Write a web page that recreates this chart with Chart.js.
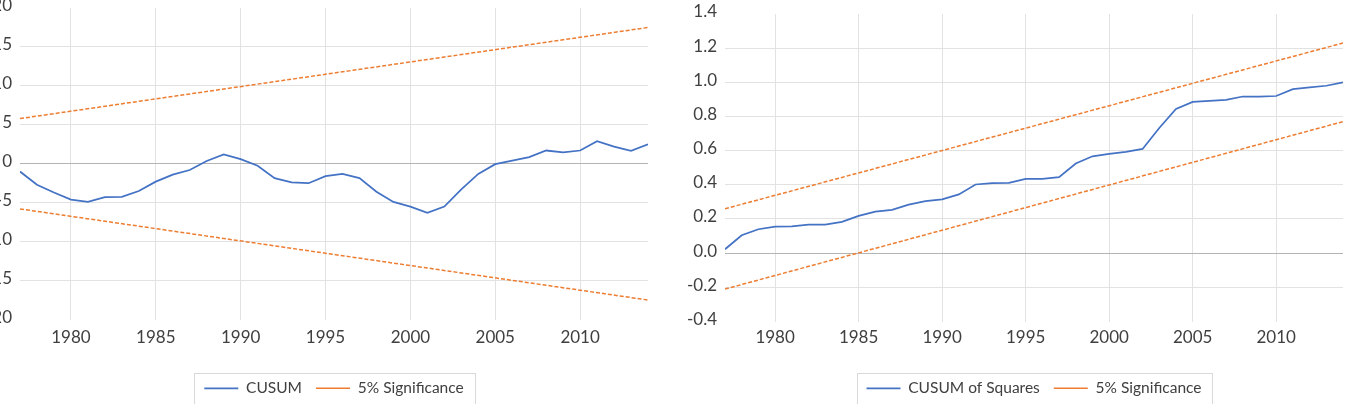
<!DOCTYPE html>
<html><head><meta charset="utf-8">
<script src="https://cdn.jsdelivr.net/npm/chart.js@4.4.1/dist/chart.umd.min.js"></script>
<style>
html,body{margin:0;padding:0;width:1352px;height:404px;overflow:hidden;background:#fff;}
#w1{position:absolute;left:-30px;top:0;width:698px;height:420px;}
#w2{position:absolute;left:680px;top:0;width:672px;height:420px;}
</style></head><body>
<div id="w1"><canvas id="c1"></canvas></div>
<div id="w2"><canvas id="c2"></canvas></div>
<script>
const years = [1977,1978,1979,1980,1981,1982,1983,1984,1985,1986,1987,1988,1989,1990,1991,1992,1993,1994,1995,1996,1997,1998,1999,2000,2001,2002,2003,2004,2005,2006,2007,2008,2009,2010,2011,2012,2013,2014];
const cusum = [-1.0,-2.7,-3.7,-4.6,-4.9,-4.3,-4.25,-3.5,-2.3,-1.4,-0.8,0.35,1.2,0.6,-0.25,-1.85,-2.4,-2.5,-1.6,-1.3,-1.85,-3.6,-4.9,-5.5,-6.3,-5.5,-3.3,-1.3,-0.05,0.4,0.85,1.7,1.45,1.7,2.9,2.2,1.65,2.5];
const cusumSq = [0.023,0.105,0.14,0.156,0.157,0.167,0.167,0.183,0.218,0.243,0.253,0.284,0.305,0.315,0.344,0.402,0.41,0.412,0.435,0.435,0.445,0.525,0.567,0.581,0.593,0.61,0.733,0.844,0.885,0.892,0.898,0.917,0.917,0.92,0.96,0.97,0.98,1.0];
const sigYears = [1977, 2014];
const cusumUpper = [5.8, 17.5];
const cusumLower = [-5.8, -17.5];
const sqUpper = [0.26, 1.23];
const sqLower = [-0.21, 0.77];
const xTickYears = [1980,1985,1990,1995,2000,2005,2010];
const leftYTicks = [-20,-15,-10,-5,0,5,10,15,20];
const rightYTicks = [-0.4,-0.2,0,0.2,0.4,0.6,0.8,1.0,1.2,1.4];
const leftLabels = ['CUSUM', '5% Significance'];
const rightLabels = ['CUSUM of Squares', '5% Significance'];

const BLUE = '#4472C4', ORANGE = '#ED7D31', TXT = '#404040';
const pts = (xs, ys) => xs.map((x, i) => ({x: x, y: ys[i]}));

const legendBox = {
  id: 'legendBox',
  afterDraw(chart) {
    const hb = chart.legend && chart.legend.legendHitBoxes;
    if (!hb || !hb.length) return;
    const last = hb[hb.length - 1];
    const left = Math.round(hb[0].left - 10);
    const right = Math.round(last.left + last.width + 11);
    const mid = hb[0].top + hb[0].height / 2;
    const top = Math.round(mid - 15);
    const ctx = chart.ctx;
    ctx.save();
    ctx.strokeStyle = '#d9d9d9';
    ctx.lineWidth = 1;
    ctx.strokeRect(left + 0.5, top + 0.5, right - left, 80);
    ctx.restore();
  }
};

function makeChart(id, o) {
  return new Chart(document.getElementById(id), {
    type: 'line',
    data: {
      datasets: [
        {label: o.labels[0], data: pts(years, o.main), borderColor: BLUE, backgroundColor: BLUE, borderWidth: 1.75, pointRadius: 0, tension: 0},
        {label: o.labels[1], data: pts(sigYears, o.upper), borderColor: ORANGE, backgroundColor: ORANGE, borderWidth: 1.5, borderDash: [4, 2], pointRadius: 0},
        {label: o.labels[1], data: pts(sigYears, o.lower), borderColor: ORANGE, backgroundColor: ORANGE, borderWidth: 1.5, borderDash: [4, 2], pointRadius: 0}
      ]
    },
    options: {
      responsive: true, maintainAspectRatio: false, animation: false,
      layout: {padding: o.pad},
      plugins: {
        tooltip: {enabled: false},
        legend: {
          position: 'bottom', fullSize: false,
          labels: {
            usePointStyle: true, pointStyle: 'line', pointStyleWidth: 34,
            padding: 14, color: TXT, font: {family: 'Lato', size: 15.5},
            filter: (item) => item.datasetIndex !== 2
          }
        }
      },
      scales: {
        x: {
          type: 'linear', min: 1977, max: 2014,
          afterBuildTicks: (s) => { s.ticks = xTickYears.map(v => ({value: v})); },
          afterFit: (s) => { s.height = o.xh; s.paddingLeft = 0; s.paddingRight = 0; },
          border: {display: false},
          grid: {color: '#e2e2e2', lineWidth: 1, drawTicks: false},
          ticks: {color: TXT, font: {family: 'Lato', size: 17}, padding: o.xpad, maxRotation: 0, autoSkip: false, callback: (v) => String(v)}
        },
        y: {
          min: o.ymin, max: o.ymax,
          afterBuildTicks: (s) => { s.ticks = o.yticks.map(v => ({value: v})); },
          afterFit: (s) => { s.width = o.yw; s.paddingTop = 0; s.paddingBottom = 0; },
          border: {display: false},
          grid: {
            drawTicks: false, lineWidth: 1,
            color: (c) => {
              const v = c.tick ? c.tick.value : NaN;
              if (Math.abs(v - o.ymin) < 1e-9 || Math.abs(v - o.ymax) < 1e-9) return 'rgba(0,0,0,0)';
              if (Math.abs(v) < 1e-9) return '#b4b4b4';
              return '#e2e2e2';
            }
          },
          ticks: {color: TXT, font: {family: 'Lato', size: 17}, padding: 8, labelOffset: -2, autoSkip: false, callback: o.fmt}
        }
      }
    },
    plugins: [legendBox]
  });
}

makeChart('c1', {
  labels: leftLabels, main: cusum, upper: cusumUpper, lower: cusumLower,
  ymin: -20, ymax: 20, yticks: leftYTicks, yw: 50, xh: 47, xpad: 8,
  pad: {top: 8, right: 20, bottom: 14, left: 0},
  fmt: (v) => String(v)
});
makeChart('c2', {
  labels: rightLabels, main: cusumSq, upper: sqUpper, lower: sqLower,
  ymin: -0.4, ymax: 1.4, yticks: rightYTicks, yw: 45, xh: 45, xpad: 6,
  pad: {top: 14, right: 9, bottom: 14, left: 0},
  fmt: (v) => (Math.abs(v) < 1e-9 ? 0 : v).toFixed(1)
});
</script>
</body></html>
